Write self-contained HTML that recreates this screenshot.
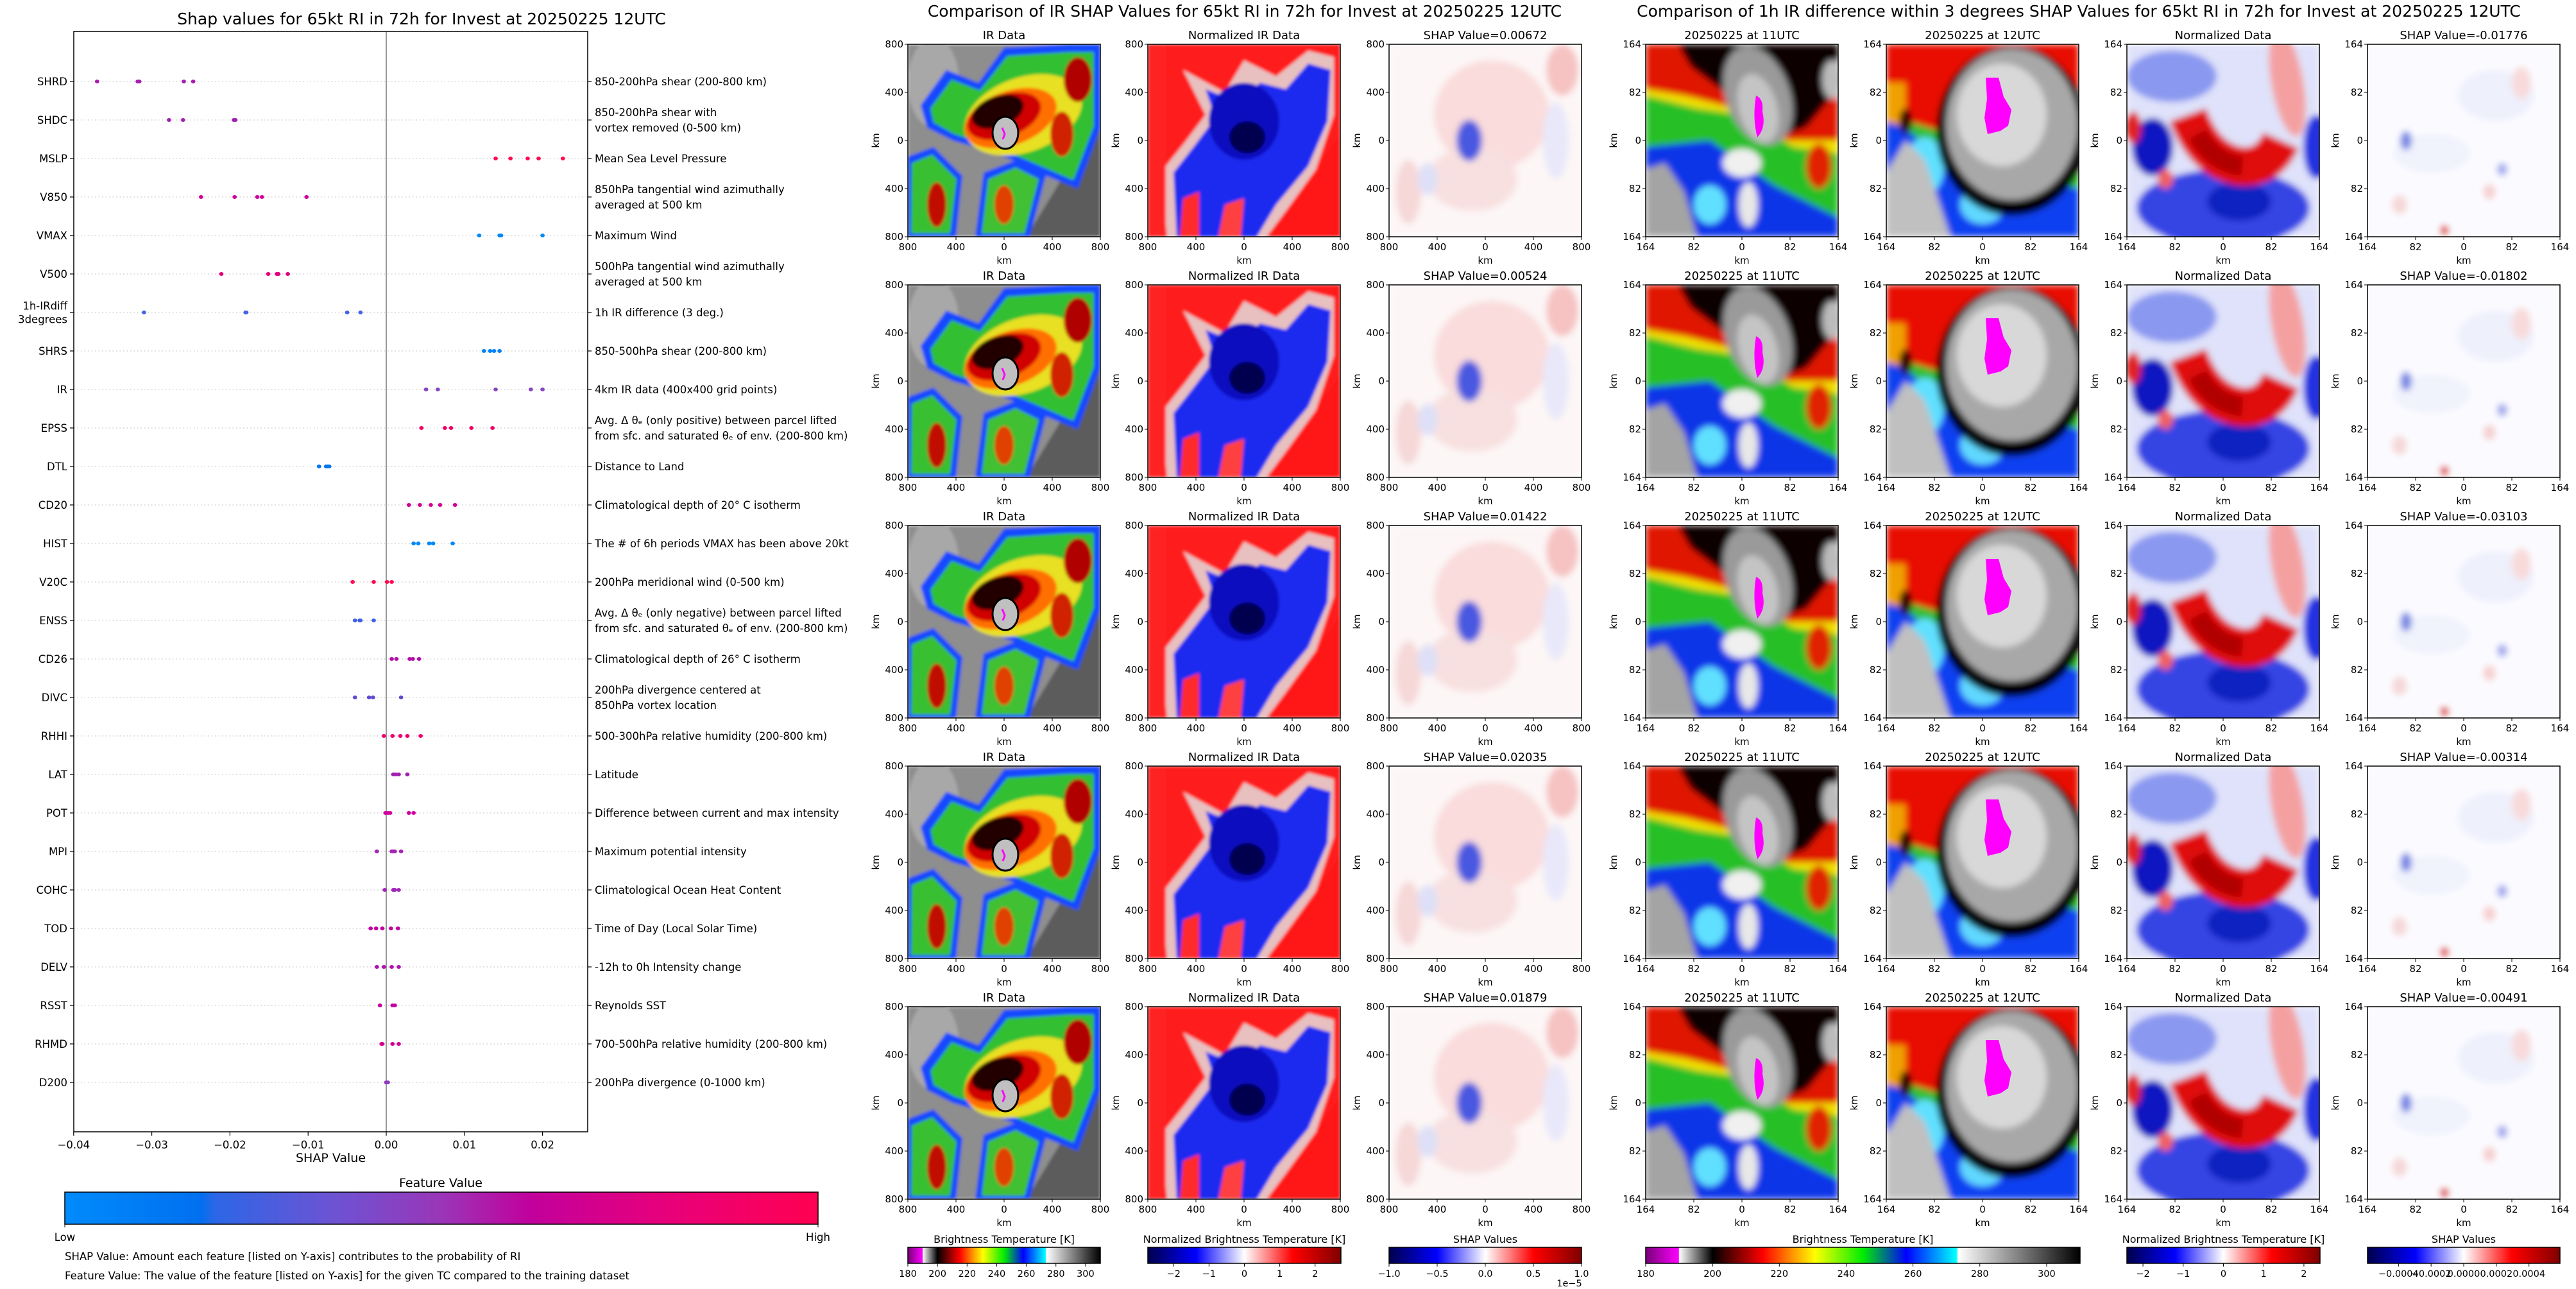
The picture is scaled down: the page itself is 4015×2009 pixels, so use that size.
<!DOCTYPE html>
<html><head><meta charset="utf-8"><title>SHAP RI Summary</title>
<style>
html,body{margin:0;padding:0;background:#fff;}
svg{display:block;font-family:"DejaVu Sans","Liberation Sans",sans-serif;}
</style></head>
<body>
<svg id="root" xmlns="http://www.w3.org/2000/svg" width="4015" height="2009" viewBox="0 0 4015 2009">
<defs>
  <filter id="blur2" x="-5%" y="-5%" width="110%" height="110%"><feGaussianBlur stdDeviation="2.5"/></filter>
  <filter id="blur4" x="-5%" y="-5%" width="110%" height="110%"><feGaussianBlur stdDeviation="5"/></filter>
  <clipPath id="clip300"><rect x="0" y="0" width="300" height="300"/></clipPath>
  <linearGradient id="gFeature" x1="0" x2="1" y1="0" y2="0">
    <stop offset="0" stop-color="#008bfb"/><stop offset="0.18" stop-color="#0070f0"/>
    <stop offset="0.2" stop-color="#2c66e6"/><stop offset="0.35" stop-color="#6a54d4"/>
    <stop offset="0.5" stop-color="#9a36b8"/><stop offset="0.62" stop-color="#c2009c"/>
    <stop offset="0.8" stop-color="#e8007a"/><stop offset="1" stop-color="#ff0052"/>
  </linearGradient>
  <linearGradient id="gIR" x1="0" x2="1" y1="0" y2="0">
    <stop offset="0" stop-color="#780078"/><stop offset="0.076" stop-color="#ff00ff"/>
    <stop offset="0.077" stop-color="#ffffff"/><stop offset="0.154" stop-color="#000000"/>
    <stop offset="0.27" stop-color="#ff0000"/><stop offset="0.34" stop-color="#ff9900"/>
    <stop offset="0.39" stop-color="#ffff00"/><stop offset="0.5" stop-color="#00ee00"/>
    <stop offset="0.6" stop-color="#0000ff"/><stop offset="0.715" stop-color="#00ffff"/>
    <stop offset="0.72" stop-color="#ffffff"/><stop offset="1" stop-color="#000000"/>
  </linearGradient>
  <linearGradient id="gSeis" x1="0" x2="1" y1="0" y2="0">
    <stop offset="0" stop-color="#00004c"/><stop offset="0.25" stop-color="#0000ff"/>
    <stop offset="0.5" stop-color="#ffffff"/><stop offset="0.75" stop-color="#ff0000"/>
    <stop offset="1" stop-color="#800000"/>
  </linearGradient>

  <!-- IR data art -->
  <g id="artIR">
    <g filter="url(#blur2)">
      <rect width="300" height="300" fill="#8e8e8e"/>
      <ellipse cx="40" cy="60" rx="40" ry="70" fill="#a8a8a8"/>
      <polygon points="185,300 300,110 300,300" fill="#5c5c5c"/>
      <polygon points="20,95 60,40 110,60 150,5 250,0 300,0 300,130 265,225 215,205 175,185 120,165 70,150 30,130" fill="#1848ff"/>
      <polygon points="35,100 68,55 112,72 155,18 250,12 290,12 290,128 258,212 212,192 172,175 118,155 72,140 40,122" fill="#30c030"/>
      <polygon points="0,300 0,175 40,160 85,205 75,300" fill="#1848ff"/>
      <polygon points="5,295 6,185 38,172 76,210 66,295" fill="#38c030"/>
      <polygon points="105,300 118,200 170,180 215,205 190,300" fill="#1848ff"/>
      <polygon points="115,295 125,210 168,192 204,210 182,295" fill="#40c030"/>
      <ellipse cx="180" cy="110" rx="95" ry="58" transform="rotate(-20 180 110)" fill="#e8e020"/>
      <ellipse cx="160" cy="115" rx="75" ry="42" transform="rotate(-20 160 115)" fill="#ff7000"/>
      <ellipse cx="150" cy="112" rx="60" ry="33" transform="rotate(-20 150 112)" fill="#d00000"/>
      <ellipse cx="140" cy="105" rx="42" ry="24" transform="rotate(-20 140 105)" fill="#200000"/>
      <ellipse cx="265" cy="55" rx="22" ry="35" fill="#b00000"/>
      <ellipse cx="240" cy="140" rx="18" ry="35" fill="#d02000"/>
      <ellipse cx="45" cy="250" rx="15" ry="35" fill="#c01000"/>
      <ellipse cx="150" cy="250" rx="15" ry="30" fill="#e04000"/>
    </g>
    <ellipse cx="152" cy="138" rx="20" ry="25" fill="#c0c0c0" stroke="#000" stroke-width="3"/>
    <path d="M147,130 l4,10 l-3,8" stroke="#ff00ff" stroke-width="3" fill="none"/>
  </g>
  <!-- normalized IR art -->
  <g id="artNorm">
    <g filter="url(#blur2)">
      <rect width="300" height="300" fill="#ff1c1c"/>
      <polygon points="30,300 20,200 60,150 90,110 55,40 120,75 150,25 200,50 250,10 290,20 290,110 262,195 215,260 185,300" fill="#e8c0c0"/>
      <polygon points="45,300 40,200 75,155 105,115 90,70 140,90 175,60 215,70 250,30 285,40 280,120 250,190 200,250 170,300" fill="#1a2af0"/>
      <polygon points="50,300 55,240 80,230 80,300" fill="#ff2a2a"/>
      <polygon points="110,300 120,250 150,240 145,300" fill="#ff4040"/>
      <ellipse cx="150" cy="120" rx="55" ry="60" fill="#0a10c0"/>
      <ellipse cx="155" cy="145" rx="28" ry="25" fill="#000050"/>
      <polygon points="190,300 300,140 300,300" fill="#ff1414"/>
      <rect x="0" y="0" width="28" height="300" fill="#ff2020"/>
    </g>
  </g>
  <!-- middle shap art -->
  <g id="artShap">
    <g filter="url(#blur4)">
      <rect width="300" height="300" fill="#fdf6f6"/>
      <ellipse cx="160" cy="110" rx="90" ry="85" fill="#fadcdc"/>
      <ellipse cx="270" cy="40" rx="25" ry="40" fill="#f6c2c2"/>
      <ellipse cx="130" cy="210" rx="70" ry="50" fill="#f8e0e0"/>
      <ellipse cx="260" cy="150" rx="20" ry="60" fill="#e8e8fa"/>
      <ellipse cx="30" cy="230" rx="20" ry="50" fill="#f6d8d8"/>
      <ellipse cx="60" cy="210" rx="15" ry="25" fill="#dde0f8"/>
      <ellipse cx="125" cy="150" rx="20" ry="32" fill="#4a58e0"/>
    </g>
  </g>
  <!-- right A: 11UTC -->
  <g id="art11">
    <g filter="url(#blur4)">
      <rect width="300" height="300" fill="#28c028"/>
      <polygon points="0,160 100,150 200,220 300,270 300,300 0,300" fill="#1034e8"/>
      <ellipse cx="150" cy="185" rx="30" ry="22" fill="#f0f0f0"/>
      <ellipse cx="100" cy="250" rx="25" ry="30" fill="#60e0ff"/>
      <ellipse cx="160" cy="250" rx="15" ry="35" fill="#e8e8e8"/>
      <polygon points="0,195 30,185 60,230 80,300 0,300" fill="#a4a4a4"/>
      <polygon points="0,0 300,0 300,170 230,160 150,110 80,100 0,80" fill="#f0e000"/>
      <polygon points="0,0 300,0 300,150 220,150 140,100 60,80 0,70" fill="#e01800"/>
      <polygon points="50,0 300,0 300,70 250,130 190,150 130,80 70,35" fill="#0c0000"/>
      <ellipse cx="175" cy="80" rx="50" ry="80" transform="rotate(-20 175 80)" fill="#9a9a9a"/>
      <ellipse cx="175" cy="100" rx="30" ry="55" transform="rotate(-15 175 100)" fill="#c4c4c4"/>
      <ellipse cx="290" cy="55" rx="15" ry="30" fill="#bbbbbb"/>
      <ellipse cx="270" cy="190" rx="20" ry="35" fill="#e02000"/>
    </g>
    <path d="M172,80 q12,5 10,25 q6,25 -8,40 q-8,-30 -2,-65z" fill="#ff00ff"/>
  </g>
  <!-- right B: 12UTC -->
  <g id="art12">
    <g filter="url(#blur4)">
      <rect width="300" height="300" fill="#30c030"/>
      <polygon points="0,110 120,200 300,225 300,300 0,300" fill="#1040f0"/>
      <ellipse cx="60" cy="190" rx="30" ry="45" fill="#60e0ff"/>
      <ellipse cx="150" cy="250" rx="35" ry="30" fill="#60d8ff"/>
      <polygon points="0,200 30,150 60,180 100,300 0,300" fill="#c0c0c0"/>
      <polygon points="0,0 300,0 300,200 0,110" fill="#e81000"/>
      <polygon points="0,60 30,60 30,130 0,120" fill="#f0a000"/>
      <ellipse cx="196" cy="135" rx="118" ry="132" fill="#000000"/>
      <ellipse cx="196" cy="125" rx="103" ry="118" fill="#a8a8a8"/>
      <ellipse cx="180" cy="110" rx="70" ry="80" fill="#d8d8d8"/>
      <ellipse cx="30" cy="120" rx="10" ry="20" fill="#300000"/>
    </g>
    <path d="M155,52 l20,0 l8,30 l12,20 l-5,25 l-12,8 l-20,5 l-5,-25 l4,-30z" fill="#ff00ff"/>
  </g>
  <!-- right C: normalized -->
  <g id="artNormR">
    <g filter="url(#blur4)">
      <rect width="300" height="300" fill="#dfe2fa"/>
      <ellipse cx="70" cy="50" rx="70" ry="40" fill="#8a98f0"/>
      <ellipse cx="250" cy="60" rx="25" ry="85" transform="rotate(-10 250 60)" fill="#f4a0a0"/>
      <ellipse cx="150" cy="255" rx="135" ry="60" fill="#3444e4"/>
      <ellipse cx="175" cy="245" rx="50" ry="30" fill="#1020c0"/>
      <ellipse cx="295" cy="160" rx="20" ry="50" fill="#2030e0"/>
      <ellipse cx="40" cy="160" rx="32" ry="45" fill="#0818c0"/>
      <path d="M95,110 Q120,180 175,190 Q220,195 240,150" stroke="#e01010" stroke-width="60" fill="none"/>
      <path d="M110,140 Q135,185 180,190" stroke="#b00000" stroke-width="30" fill="none"/>
      <ellipse cx="10" cy="130" rx="12" ry="25" fill="#e02020"/>
      <ellipse cx="60" cy="210" rx="12" ry="15" fill="#f06060"/>
    </g>
  </g>
  <!-- right D: shap -->
  <g id="artShapR">
    <g filter="url(#blur4)">
      <rect width="300" height="300" fill="#fbfbff"/>
      <ellipse cx="200" cy="80" rx="60" ry="40" fill="#eef0fc"/>
      <ellipse cx="240" cy="60" rx="15" ry="25" fill="#f8dada"/>
      <ellipse cx="100" cy="170" rx="60" ry="30" fill="#f0f2fc"/>
      <ellipse cx="60" cy="150" rx="9" ry="15" fill="#7888e4"/>
      <ellipse cx="50" cy="250" rx="12" ry="15" fill="#f6d8d8"/>
      <ellipse cx="190" cy="230" rx="10" ry="12" fill="#f6d0d0"/>
      <ellipse cx="210" cy="195" rx="8" ry="10" fill="#a0a8ec"/>
      <ellipse cx="120" cy="290" rx="7" ry="8" fill="#e03030"/>
    </g>
  </g>
</defs>
</svg>
<script>
// ---------------- Beeswarm chart data ----------------
const features = ['SHRD','SHDC','MSLP','V850','VMAX','V500','1h-IRdiff\n3degrees','SHRS','IR','EPSS','DTL','CD20','HIST','V20C','ENSS','CD26','DIVC','RHHI','LAT','POT','MPI','COHC','TOD','DELV','RSST','RHMD','D200'];
const descriptions = [
 '850-200hPa shear (200-800 km)',
 '850-200hPa shear with\nvortex removed (0-500 km)',
 'Mean Sea Level Pressure',
 '850hPa tangential wind azimuthally\naveraged at 500 km',
 'Maximum Wind',
 '500hPa tangential wind azimuthally\naveraged at 500 km',
 '1h IR difference (3 deg.)',
 '850-500hPa shear (200-800 km)',
 '4km IR data (400x400 grid points)',
 'Avg. \u0394 \u03b8\u2091 (only positive) between parcel lifted\nfrom sfc. and saturated \u03b8\u2091 of env. (200-800 km)',
 'Distance to Land',
 'Climatological depth of 20\u00b0 C isotherm',
 'The # of 6h periods VMAX has been above 20kt',
 '200hPa meridional wind (0-500 km)',
 'Avg. \u0394 \u03b8\u2091 (only negative) between parcel lifted\nfrom sfc. and saturated \u03b8\u2091 of env. (200-800 km)',
 'Climatological depth of 26\u00b0 C isotherm',
 '200hPa divergence centered at\n850hPa vortex location',
 '500-300hPa relative humidity (200-800 km)',
 'Latitude',
 'Difference between current and max intensity',
 'Maximum potential intensity',
 'Climatological Ocean Heat Content',
 'Time of Day (Local Solar Time)',
 '-12h to 0h Intensity change',
 'Reynolds SST',
 '700-500hPa relative humidity (200-800 km)',
 '200hPa divergence (0-1000 km)'
];
const shapVals = [
 [-0.0370,-0.0318,-0.0316,-0.0259,-0.0247],
 [-0.0278,-0.0260,-0.0195,-0.0193],
 [0.0140,0.0159,0.0181,0.0195,0.0226],
 [-0.0237,-0.0194,-0.0165,-0.0159,-0.0102],
 [0.0119,0.0145,0.0147,0.0200],
 [-0.0211,-0.0151,-0.0140,-0.0138,-0.0126],
 [-0.0310,-0.0180,-0.0179,-0.0050,-0.0033],
 [0.0125,0.0133,0.0138,0.0145],
 [0.0051,0.0066,0.0140,0.0185,0.0200],
 [0.0045,0.0075,0.0083,0.0109,0.0136],
 [-0.0086,-0.0077,-0.0075,-0.0073],
 [0.0029,0.0043,0.0057,0.0069,0.0088],
 [0.0035,0.0041,0.0055,0.0060,0.0085],
 [-0.0043,-0.0016,0.0001,0.0007],
 [-0.0040,-0.0034,-0.0033,-0.0016],
 [0.0007,0.0013,0.0030,0.0034,0.0042],
 [-0.0040,-0.0022,-0.0017,0.0019],
 [-0.0003,0.0008,0.0018,0.0027,0.0044],
 [0.0009,0.0012,0.0016,0.0027],
 [-0.0001,0.0002,0.0005,0.0029,0.0035],
 [-0.0012,0.0007,0.0009,0.0011,0.0019],
 [-0.0002,0.0009,0.0011,0.0016],
 [-0.0020,-0.0013,-0.0005,0.0006,0.0015],
 [-0.0012,-0.0003,0.0007,0.0016],
 [-0.0008,0.0008,0.0011],
 [-0.0006,-0.0005,0.0008,0.0016],
 [0.0000,0.0002]
];
const featureColors = ['#a81cb4','#a020b0','#ff0a50','#d0009a','#0088fa','#e0007c','#4462e6','#0082fa','#8444c4','#f20062',
 '#0074f2','#d00092','#0088f8','#ff0a50','#3c5ee8','#b010a8','#6248d0','#f00070','#a020b0','#d000a0',
 '#a424b4','#a028b8','#c000a0','#b010b0','#c400a0','#d00090','#9038c0'];
const xTicks = [-0.04,-0.03,-0.02,-0.01,0,0.01,0.02];
const xTickLabels = ['\u22120.04','\u22120.03','\u22120.02','\u22120.01','0.00','0.01','0.02'];

// ---------------- Panel data ----------------
const midShapTitles = ['SHAP Value=0.00672','SHAP Value=0.00524','SHAP Value=0.01422','SHAP Value=0.02035','SHAP Value=0.01879'];
const rightShapTitles = ['SHAP Value=-0.01776','SHAP Value=-0.01802','SHAP Value=-0.03103','SHAP Value=-0.00314','SHAP Value=-0.00491'];
const midTickLabels = ['800','400','0','400','800'];
const rightTickLabels = ['164','82','0','82','164'];
const irCbTicks = [180,200,220,240,260,280,300];
const normCbTicks = [-2,-1,0,1,2];
const shapCbTicks = [-1.0,-0.5,0.0,0.5,1.0];
const shapRCbTicks = [-0.0004,-0.0002,0,0.0002,0.0004];
const shapRCbLabels = ['\u22120.0004','\u22120.0002','0.0000','0.0002','0.0004'];

const NS = 'http://www.w3.org/2000/svg';
const root = document.getElementById('root');
function el(tag, attrs, parent){
  const e = document.createElementNS(NS, tag);
  for (const k in attrs) e.setAttribute(k, attrs[k]);
  (parent||root).appendChild(e);
  return e;
}
function txt(x, y, s, size, anchor, name, parent, extra){
  const t = el('text', Object.assign({x:x, y:y, 'font-size':size, 'text-anchor':anchor||'start', fill:'#000'}, extra||{}), parent);
  t.textContent = s;
  
  
  return t;
}

// ---------------- Left beeswarm chart ----------------
const PL = 115, PR = 916, PT = 49, PB = 1764;
const x0 = 602, xPer = 12180;
function xScale(v){ return x0 + v * xPer; }
function yRow(i){ return 127 + 60 * i; }

const chart = el('g', {});



txt(657, 38, 'Shap values for 65kt RI in 72h for Invest at 20250225 12UTC', 25, 'middle', 'shap-chart-title', chart);

features.forEach((f, i) => {
  const g = el('line', {x1:PL, x2:PR, y1:yRow(i), y2:yRow(i), stroke:'#c8c8c8', 'stroke-width':1.3, 'stroke-dasharray':'1.5,4'}, chart);
  
  
});
const zl = el('line', {x1:xScale(0), x2:xScale(0), y1:PT, y2:PB, stroke:'#999', 'stroke-width':2}, chart);


const frame = el('rect', {x:PL, y:PT, width:PR-PL, height:PB-PT, fill:'none', stroke:'#000', 'stroke-width':1.5}, chart);



features.forEach((f, i) => {
  const y = yRow(i);
  el('line', {x1:PL-6, x2:PL, y1:y, y2:y, stroke:'#000', 'stroke-width':1.2}, chart);
  el('line', {x1:PR, x2:PR+6, y1:y, y2:y, stroke:'#000', 'stroke-width':1.2}, chart);
  const lines = f.split('\n');
  lines.forEach((ln, k) => {
    const yy = y + 6 + (k - (lines.length-1)/2) * 21;
    txt(PL-10, yy, ln, 16.5, 'end', 'feature-label-' + f.split('\n')[0].toLowerCase(), chart);
  });
  const dl = descriptions[i].split('\n');
  dl.forEach((ln, k) => {
    const yy = y + 6 + (k - (dl.length-1)/2) * 24;
    txt(PR+11, yy, ln, 16.5, 'start', 'feature-description', chart);
  });
});

shapVals.forEach((vals, i) => {
  vals.forEach(v => {
    const c = el('ellipse', {cx:xScale(v), cy:yRow(i), rx:3.4, ry:3, fill:featureColors[i]}, chart);
    
    
  });
});

xTicks.forEach((v, k) => {
  el('line', {x1:xScale(v), x2:xScale(v), y1:PB, y2:PB+6, stroke:'#000', 'stroke-width':1.2}, chart);
  txt(xScale(v), PB+26, xTickLabels[k], 16.5, 'middle', 'x-tick-label', chart);
});
txt((PL+PR)/2, PB+47, 'SHAP Value', 19, 'middle', 'x-axis-title', chart);

txt(687, 1850, 'Feature Value', 19, 'middle', 'feature-colorbar-title', chart);
const fcb = el('rect', {x:101, y:1858, width:1174, height:50, fill:'url(#gFeature)', stroke:'#000', 'stroke-width':1.5}, chart);


el('line', {x1:101, x2:101, y1:1908, y2:1913, stroke:'#000'}, chart);
el('line', {x1:1275, x2:1275, y1:1908, y2:1913, stroke:'#000'}, chart);
txt(101, 1934, 'Low', 16.5, 'middle', 'colorbar-low-label', chart);
txt(1275, 1934, 'High', 16.5, 'middle', 'colorbar-high-label', chart);
txt(101, 1964, 'SHAP Value: Amount each feature [listed on Y-axis] contributes to the probability of RI', 16.5, 'start', 'shap-value-note', chart);
txt(101, 1994, 'Feature Value: The value of the feature [listed on Y-axis] for the given TC compared to the training dataset', 16.5, 'start', 'feature-value-note', chart);

// ---------------- Panels ----------------
const midXs = [1415, 1789, 2165];
const rightXs = [2565, 2940, 3315, 3690];
const rowTop = r => 69 + 375 * r;

txt(1940, 26, 'Comparison of IR SHAP Values for 65kt RI in 72h for Invest at 20250225 12UTC', 25, 'middle', 'ir-comparison-title');
txt(3240, 26, 'Comparison of 1h IR difference within 3 degrees SHAP Values for 65kt RI in 72h for Invest at 20250225 12UTC', 25, 'middle', 'ir-diff-comparison-title');

function panel(x, y, art, title, ticks, name){
  const g = el('g', {});
  
  
  const inner = el('g', {transform:'translate(' + x + ',' + y + ')', 'clip-path':'url(#clip300)'}, g);
  el('use', {href:'#' + art}, inner);
  el('rect', {x:x, y:y, width:300, height:300, fill:'none', stroke:'#000', 'stroke-width':1.5}, g);
  txt(x+150, y-8, title, 18, 'middle', 'panel-title', g);
  ticks.forEach((lab, k) => {
    const p = k * 75;
    el('line', {x1:x+p, x2:x+p, y1:y+300, y2:y+305, stroke:'#000'}, g);
    txt(x+p, y+321, lab, 15, 'middle', 'panel-x-tick', g);
    el('line', {x1:x-5, x2:x, y1:y+p, y2:y+p, stroke:'#000'}, g);
    txt(x-7, y+p+5, lab, 15, 'end', 'panel-y-tick', g);
  });
  txt(x+150, y+342, 'km', 15, 'middle', 'panel-x-axis-title', g);
  txt(x-45, y+150, 'km', 15, 'middle', 'panel-y-axis-title', g, {transform:'rotate(-90 ' + (x-45) + ' ' + (y+150) + ')'});
}

for (let r = 0; r < 5; r++) {
  const y = rowTop(r);
  panel(midXs[0], y, 'artIR', 'IR Data', midTickLabels, 'ir-data-panel');
  panel(midXs[1], y, 'artNorm', 'Normalized IR Data', midTickLabels, 'normalized-ir-panel');
  panel(midXs[2], y, 'artShap', midShapTitles[r], midTickLabels, 'ir-shap-panel');
  panel(rightXs[0], y, 'art11', '20250225 at 11UTC', rightTickLabels, 'ir-11utc-panel');
  panel(rightXs[1], y, 'art12', '20250225 at 12UTC', rightTickLabels, 'ir-12utc-panel');
  panel(rightXs[2], y, 'artNormR', 'Normalized Data', rightTickLabels, 'normalized-diff-panel');
  panel(rightXs[3], y, 'artShapR', rightShapTitles[r], rightTickLabels, 'diff-shap-panel');
}

// ---------------- Colorbars ----------------
function colorbar(x, w, grad, title, ticks, labels, vmin, vmax, name){
  const g = el('g', {});
  
  
  txt(x + w/2, 1937, title, 16, 'middle', 'colorbar-title', g);
  el('rect', {x:x, y:1944, width:w, height:25, fill:'url(#' + grad + ')', stroke:'#000', 'stroke-width':1.5}, g);
  ticks.forEach((v, k) => {
    const px = x + (v - vmin) / (vmax - vmin) * w;
    el('line', {x1:px, x2:px, y1:1969, y2:1974, stroke:'#000'}, g);
    txt(px, 1990, labels[k], 14.5, 'middle', 'colorbar-tick', g);
  });
  return g;
}
const irLabels = irCbTicks.map(String);
const normLabels = normCbTicks.map(v => v < 0 ? '\u2212' + Math.abs(v) : String(v));
const shapLabels = shapCbTicks.map(v => (v < 0 ? '\u2212' : '') + Math.abs(v).toFixed(1));
colorbar(1415, 300, 'gIR', 'Brightness Temperature [K]', irCbTicks, irLabels, 180, 310, 'ir-colorbar');
colorbar(1789, 301, 'gSeis', 'Normalized Brightness Temperature [K]', normCbTicks, normLabels, -2.73, 2.73, 'normalized-colorbar');
colorbar(2165, 300, 'gSeis', 'SHAP Values', shapCbTicks, shapLabels, -1, 1, 'shap-colorbar');
txt(2446, 2005, '1e\u22125', 14.5, 'middle', 'shap-colorbar-scale', null);
colorbar(2565, 677, 'gIR', 'Brightness Temperature [K]', irCbTicks, irLabels, 180, 310, 'diff-ir-colorbar');
colorbar(3315, 301, 'gSeis', 'Normalized Brightness Temperature [K]', normCbTicks, normLabels, -2.4, 2.4, 'diff-normalized-colorbar');
colorbar(3690, 300, 'gSeis', 'SHAP Values', shapRCbTicks, shapRCbLabels, -0.00059, 0.00059, 'diff-shap-colorbar');
</script>
</body></html>
